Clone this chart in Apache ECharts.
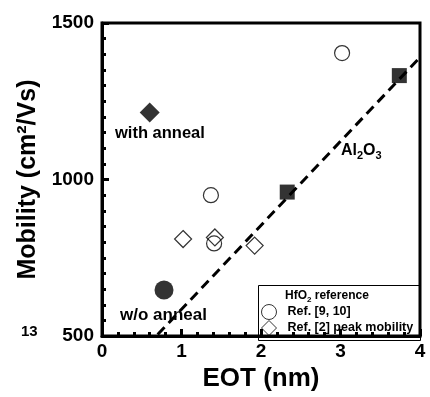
<!DOCTYPE html>
<html>
<head>
<meta charset="utf-8">
<script src="https://cdn.jsdelivr.net/npm/echarts@6/dist/echarts.min.js"></script>
<style>
  html, body { margin: 0; padding: 0; background: #fff; }
  #chart { width: 430px; height: 397px; }
</style>
</head>
<body>
<div id="chart"></div>
<script>
// values (x = EOT in nm, y = mobility in cm2/Vs)
const xTicks = [0, 1, 2, 3, 4];
const yTicks = [500, 1000, 1500];
const al2o3Pts = [[2.33, 960], [3.74, 1332]];
const al2o3Fit = [[0.7, 505], [3.98, 1385]];
const ref910 = [[1.37, 950], [3.02, 1404], [1.41, 796]];
const ref2Peak = [[1.02, 810], [1.42, 815], [1.92, 789]];
const withAnneal = [[0.6, 1214]];
const woAnneal = [[0.78, 647]];

const FONT = '"Liberation Sans", Arial, sans-serif';
const black = '#000';

let chart = echarts.init(document.getElementById('chart'));

function makeAxis(ticks, minorSplit) {
  return {
    type: 'value',
    min: ticks[0],
    max: ticks[ticks.length - 1],
    interval: ticks[1] - ticks[0],
    axisLine: { show: true, onZero: false, lineStyle: { color: black, width: 3 } },
    axisTick: { show: true, inside: true, length: 7, lineStyle: { color: black, width: 3 } },
    minorTick: { show: true, splitNumber: minorSplit, length: 4, lineStyle: { color: black, width: 3 } },
    splitLine: { show: false },
    axisLabel: {
      color: black,
      fontFamily: FONT,
      fontWeight: 'bold',
      fontSize: 19,
      margin: 6,
      formatter: v => String(v)
    }
  };
}

let xAxis = makeAxis(xTicks, 5);
xAxis.name = 'EOT (nm)';
xAxis.nameLocation = 'middle';
xAxis.nameGap = 24;
xAxis.nameTextStyle = { color: black, fontFamily: FONT, fontWeight: 'bold', fontSize: 26 };

let yAxis = makeAxis(yTicks, 10);
yAxis.axisLabel.margin = 8;
yAxis.name = 'Mobility (cm²/Vs)';
yAxis.nameLocation = 'middle';
yAxis.nameGap = 61;
yAxis.nameTextStyle = { color: black, fontFamily: FONT, fontWeight: 'bold', fontSize: 25 };

// open symbols: outline only
const openStyle = { color: 'transparent', borderColor: black, borderWidth: 1.2 };

chart.setOption({
  animation: false,
  // grid border gives the heavy frame on all four sides
  grid: {
    left: 102, right: 10, top: 23, bottom: 57,
    show: true, borderColor: black, borderWidth: 3, backgroundColor: 'transparent'
  },
  xAxis: xAxis,
  yAxis: yAxis,
  legend: {
    data: ['Ref. [9, 10]', 'Ref. [2] peak mobility'],
    orient: 'vertical',
    left: 261,
    top: 304,
    padding: 0,
    itemWidth: 15,
    itemHeight: 15,
    itemGap: 0,
    itemStyle: { borderWidth: 1 },
    textStyle: { color: black, fontFamily: FONT, fontWeight: 'bold', fontSize: 12.5, padding: [0, 0, 0, 6] }
  },
  series: [
    {
      name: 'Al2O3',
      type: 'scatter',
      data: al2o3Pts,
      symbol: 'rect',
      symbolSize: 15,
      itemStyle: { color: black },
      // dashed fit through the Al2O3 points
      markLine: {
        silent: true,
        symbol: ['none', 'none'],
        label: { show: false },
        lineStyle: { color: black, width: 3, type: [10, 6] },
        data: [[{ coord: al2o3Fit[0] }, { coord: al2o3Fit[1] }]]
      }
    },
    {
      name: 'Ref. [9, 10]',
      type: 'scatter',
      data: ref910,
      symbol: 'circle',
      symbolSize: 15,
      itemStyle: openStyle
    },
    {
      name: 'Ref. [2] peak mobility',
      type: 'scatter',
      data: ref2Peak,
      symbol: 'diamond',
      symbolSize: 17,
      itemStyle: openStyle
    },
    {
      name: 'with anneal',
      type: 'scatter',
      data: withAnneal,
      symbol: 'diamond',
      symbolSize: 20,
      itemStyle: { color: black }
    },
    {
      name: 'w/o anneal',
      type: 'scatter',
      data: woAnneal,
      symbol: 'circle',
      symbolSize: 19,
      itemStyle: { color: black }
    }
  ],
  graphic: [
    {
      type: 'text', left: 115, top: 125, z: 10,
      style: { text: 'with anneal', font: 'bold 16.5px ' + FONT, fill: black }
    },
    {
      type: 'text', left: 120, top: 307, z: 10,
      style: { text: 'w/o anneal', font: 'bold 17px ' + FONT, fill: black }
    },
    {
      type: 'text', left: 341, top: 143, z: 10,
      style: {
        text: '{m|Al}{s|2}{m|O}{s|3}',
        fill: black,
        rich: {
          m: { fontFamily: FONT, fontWeight: 'bold', fontSize: 16, fill: black },
          s: { fontFamily: FONT, fontWeight: 'bold', fontSize: 11, fill: black, padding: [9, 0, 0, 0] }
        }
      }
    },
    {
      type: 'text', left: 21, top: 324, z: 10,
      style: { text: '13', font: 'bold 15px ' + FONT, fill: black }
    },
    {
      // legend frame, runs into the right and bottom axes
      type: 'rect', z: 5,
      shape: { x: 258.5, y: 285.5, width: 162, height: 55 },
      style: { fill: 'none', stroke: black, lineWidth: 1 }
    },
    {
      type: 'text', left: 285, top: 290, z: 10,
      style: {
        text: '{m|HfO}{s|2}{m| reference}',
        fill: black,
        rich: {
          m: { fontFamily: FONT, fontWeight: 'bold', fontSize: 12, fill: black },
          s: { fontFamily: FONT, fontWeight: 'bold', fontSize: 8, fill: black, padding: [7, 0, 0, 0] }
        }
      }
    }
  ]
});
</script>
</body>
</html>
